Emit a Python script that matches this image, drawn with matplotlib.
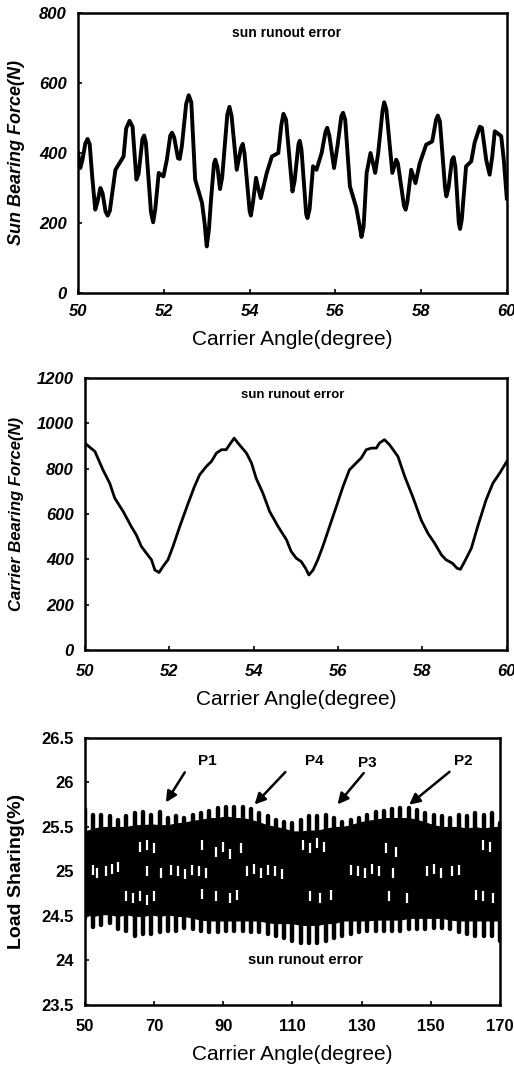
import numpy as np
import matplotlib
matplotlib.use("Agg")
from matplotlib import pyplot as plt

plt.rcParams['font.family'] = ['Liberation Sans', 'DejaVu Sans']

# --- panel 1: sun bearing force ---
sun_x = [50.00, 50.05, 50.10, 50.17, 50.22, 50.27, 50.33, 50.40, 50.45, 50.52,
         50.57, 50.64, 50.69, 50.74, 50.87, 50.99, 51.06, 51.12, 51.20, 51.27,
         51.36, 51.41, 51.50, 51.54, 51.58, 51.70, 51.75, 51.80, 51.88, 51.99,
         52.07, 52.15, 52.19, 52.24, 52.33, 52.37, 52.42, 52.52, 52.58, 52.64,
         52.73, 52.89, 52.95, 53.00, 53.05, 53.10, 53.17, 53.20, 53.25, 53.31,
         53.36, 53.48, 53.53, 53.58, 53.70, 53.80, 53.84, 53.88, 54.00, 54.03,
         54.08, 54.15, 54.20, 54.26, 54.40, 54.52, 54.67, 54.74, 54.79, 54.85,
         55.00, 55.05, 55.14, 55.17, 55.21, 55.32, 55.35, 55.40, 55.48, 55.56,
         55.68, 55.77, 55.81, 55.86, 55.97, 56.05, 56.14, 56.18, 56.23, 56.34,
         56.49, 56.57, 56.61, 56.66, 56.73, 56.82, 56.88, 56.93, 57.00, 57.10,
         57.14, 57.19, 57.33, 57.42, 57.46, 57.60, 57.64, 57.68, 57.77, 57.87,
         57.97, 58.12, 58.26, 58.35, 58.39, 58.44, 58.56, 58.59, 58.64, 58.72,
         58.76, 58.80, 58.88, 58.91, 58.95, 59.05, 59.17, 59.25, 59.37, 59.42,
         59.52, 59.60, 59.66, 59.72, 59.80, 59.87, 59.93, 60.00]
sun_force = [400, 357, 380, 428, 440, 425, 330, 238, 260, 300,
             285, 232, 221, 235, 352, 376, 390, 470, 492, 475,
             324, 340, 440, 450, 430, 230, 202, 240, 343, 333,
             381, 450, 458, 445, 385, 383, 420, 540, 565, 545,
             324, 257, 200, 133, 180, 267, 370, 381, 360, 297,
             330, 510, 532, 505, 352, 415, 426, 400, 235, 221,
             260, 329, 300, 271, 343, 390, 400, 480, 512, 495,
             290, 320, 425, 435, 410, 225, 214, 240, 362, 352,
             400, 460, 472, 450, 357, 420, 505, 515, 495, 305,
             243, 190, 160, 190, 343, 400, 370, 343, 400, 520,
             545, 525, 343, 381, 370, 250, 238, 260, 352, 314,
             371, 424, 433, 495, 507, 490, 300, 276, 300, 380,
             388, 360, 200, 183, 210, 362, 376, 430, 475, 472,
             380, 338, 390, 462, 455, 448, 380, 270]

# --- panel 2: carrier bearing force ---
car_x = [50.00, 50.24, 50.43, 50.59, 50.71, 50.91, 51.10, 51.22, 51.34, 51.46,
         51.58, 51.66, 51.76, 51.85, 51.97, 52.09, 52.25, 52.45, 52.60, 52.72,
         52.88, 53.00, 53.12, 53.24, 53.35, 53.43, 53.54, 53.63, 53.83, 53.95,
         54.06, 54.22, 54.38, 54.58, 54.78, 54.89, 55.01, 55.13, 55.23, 55.31,
         55.41, 55.52, 55.64, 55.80, 55.96, 56.12, 56.27, 56.43, 56.55, 56.67,
         56.79, 56.91, 56.98, 57.10, 57.22, 57.42, 57.58, 57.77, 57.97, 58.13,
         58.29, 58.45, 58.56, 58.71, 58.82, 58.90, 59.00, 59.16, 59.31, 59.51,
         59.67, 59.83, 60.00]
car_force = [913, 876, 795, 736, 670, 611, 545, 508, 457, 427,
             398, 353, 342, 368, 398, 457, 545, 648, 722, 773,
             810, 832, 869, 884, 884, 906, 935, 913, 869, 825,
             758, 692, 611, 545, 486, 435, 405, 390, 361, 331,
             353, 398, 457, 545, 633, 722, 795, 825, 847, 884,
             891, 891, 913, 928, 906, 854, 766, 677, 574, 515,
             471, 420, 398, 383, 361, 356, 390, 449, 545, 663,
             736, 780, 832]

# --- panel 3: load sharing band (P1..P4 overlaid), one tooth every 2.4 deg ---
tooth_x = np.arange(50, 170.01, 2.4)
top_peak = [25.70, 25.64, 25.63, 25.62, 25.58, 25.62, 25.66, 25.67, 25.64, 25.67,
            25.60, 25.62, 25.60, 25.64, 25.66, 25.68, 25.71, 25.72, 25.72, 25.72,
            25.70, 25.66, 25.62, 25.58, 25.56, 25.55, 25.58, 25.62, 25.62, 25.64,
            25.60, 25.56, 25.58, 25.60, 25.64, 25.67, 25.68, 25.70, 25.71, 25.71,
            25.69, 25.66, 25.63, 25.62, 25.60, 25.64, 25.62, 25.66, 25.64, 25.66,
            25.55]
top_base = [25.45, 25.48, 25.50, 25.50, 25.50, 25.50, 25.52, 25.52, 25.53, 25.52,
            25.52, 25.54, 25.55, 25.57, 25.58, 25.60, 25.60, 25.62, 25.60, 25.60,
            25.58, 25.55, 25.52, 25.50, 25.48, 25.45, 25.45, 25.46, 25.46, 25.48,
            25.50, 25.50, 25.52, 25.55, 25.57, 25.58, 25.60, 25.60, 25.60, 25.60,
            25.58, 25.55, 25.52, 25.50, 25.50, 25.50, 25.48, 25.50, 25.48, 25.50,
            25.50]
bottom_peak = [24.48, 24.38, 24.40, 24.42, 24.35, 24.33, 24.28, 24.30, 24.30, 24.32,
               24.33, 24.33, 24.36, 24.35, 24.33, 24.32, 24.32, 24.33, 24.33, 24.33,
               24.32, 24.32, 24.30, 24.28, 24.25, 24.22, 24.20, 24.20, 24.20, 24.22,
               24.25, 24.28, 24.30, 24.32, 24.33, 24.33, 24.33, 24.33, 24.33, 24.35,
               24.35, 24.35, 24.36, 24.36, 24.35, 24.32, 24.30, 24.28, 24.27, 24.27,
               24.22]
bottom_base = [24.52, 24.50, 24.52, 24.52, 24.50, 24.52, 24.50, 24.50, 24.52, 24.50,
               24.52, 24.50, 24.50, 24.48, 24.46, 24.45, 24.45, 24.45, 24.45, 24.45,
               24.45, 24.45, 24.43, 24.42, 24.42, 24.42, 24.40, 24.40, 24.40, 24.42,
               24.42, 24.45, 24.45, 24.45, 24.45, 24.46, 24.46, 24.46, 24.46, 24.48,
               24.48, 24.48, 24.48, 24.48, 24.46, 24.45, 24.45, 24.45, 24.45, 24.45,
               24.45]
# white gaps inside the black band
gap_x = [52.5, 53.5, 56, 58, 59.5, 68, 72, 75, 77, 79, 81, 83, 85, 97, 99, 101, 103,
         105, 107, 127, 129, 131, 133, 135, 139, 149, 151, 153, 156, 158,
         66, 68, 70, 84, 88, 90, 92, 95, 113, 115, 117, 119, 137, 140, 165, 167,
         62, 64, 66, 68, 70, 84, 88, 92, 94, 115, 118, 121, 138, 143, 163, 165, 168]
gap_y = [25.02, 24.98, 25.0, 25.03, 25.05, 25.0, 24.98, 25.02, 25.0, 24.97, 25.02, 25.0,
         24.98, 25.0, 25.03, 24.98, 25.02, 25.0, 24.97, 25.02, 25.0, 24.98, 25.03, 25.0,
         24.98, 25.0, 25.03, 24.98, 25.0, 25.02,
         25.28, 25.3, 25.26, 25.3, 25.22, 25.28, 25.2, 25.26, 25.3, 25.26, 25.32, 25.28,
         25.26, 25.22, 25.3, 25.28,
         24.72, 24.7, 24.72, 24.68, 24.72, 24.75, 24.72, 24.7, 24.74, 24.72, 24.7,
         24.74, 24.72, 24.7, 24.74, 24.72, 24.7]
labels_p = ['P1', 'P4', 'P3', 'P2']
label_x = [85.5, 116.2, 131.6, 159.4]
label_y = [26.24, 26.24, 26.22, 26.24]
tip_x = [73.0, 98.5, 122.5, 143.1]
tip_y = [25.75, 25.73, 25.73, 25.73]
tail_x = [79.3, 108.5, 131.1, 156.0]
tail_y = [26.14, 26.14, 26.13, 26.14]

fig = plt.figure(figsize=(5.14, 10.68), dpi=100)
ax1 = fig.add_axes([0.152, 0.7257, 0.834, 0.2621])
ax2 = fig.add_axes([0.165, 0.3914, 0.821, 0.2546])
ax3 = fig.add_axes([0.165, 0.0590, 0.808, 0.2500])

ax1.plot(sun_x, sun_force, color='black', lw=2.8, solid_joinstyle='round')
ax1.set_xlim(50, 60)
ax1.set_ylim(0, 800)
ax1.set_xticks(range(50, 61, 2))
ax1.set_yticks(range(0, 801, 200))
ax1.text(54.86, 743, 'sun runout error', fontsize=10, fontweight='bold', ha='center', va='center')
ax1.set_ylabel('Sun Bearing Force(N)', fontsize=13, fontweight='bold', fontstyle='italic')
ax1.set_xlabel('Carrier Angle(degree)', fontsize=15, labelpad=8)

ax2.plot(car_x, car_force, color='black', lw=2.0, solid_joinstyle='round')
ax2.set_xlim(50, 60)
ax2.set_ylim(0, 1200)
ax2.set_xticks(range(50, 61, 2))
ax2.set_yticks(range(0, 1201, 200))
ax2.text(54.93, 1127, 'sun runout error', fontsize=9.5, fontweight='bold', ha='center', va='center')
ax2.set_ylabel('Carrier Bearing Force(N)', fontsize=12, fontweight='bold', fontstyle='italic')
ax2.set_xlabel('Carrier Angle(degree)', fontsize=15, labelpad=8)

for ax in (ax1, ax2):
    for lab in ax.get_xticklabels() + ax.get_yticklabels():
        lab.set_fontweight('bold')
        lab.set_fontstyle('italic')
        lab.set_fontsize(12)

ax3.fill_between(tooth_x, bottom_base, top_base, color='black', lw=0.8, edgecolor='black')
ax3.vlines(tooth_x, top_base, top_peak, color='black', lw=3.2, capstyle='round')
ax3.vlines(tooth_x, bottom_peak, bottom_base, color='black', lw=3.2, capstyle='round')
ax3.plot(gap_x, gap_y, linestyle='none', marker='|', color='white', ms=7, mew=1.6)
for lab, lx, ly, ax_, ay_, tx, ty in zip(labels_p, label_x, label_y, tip_x, tip_y, tail_x, tail_y):
    ax3.text(lx, ly, lab, fontsize=11, fontweight='bold', ha='center', va='center')
    ax3.annotate('', xy=(ax_, ay_), xytext=(tx, ty),
                 arrowprops=dict(arrowstyle='-|>', color='black', lw=1.8, mutation_scale=16))
ax3.text(113.8, 24.0, 'sun runout error', fontsize=10.5, fontweight='bold', ha='center', va='center')
ax3.set_xlim(50, 170)
ax3.set_ylim(23.5, 26.5)
ax3.set_xticks(range(50, 171, 20))
ax3.set_yticks([23.5, 24, 24.5, 25, 25.5, 26, 26.5])
ax3.set_yticklabels(['23.5', '24', '24.5', '25', '25.5', '26', '26.5'])
ax3.set_ylabel('Load Sharing(%)', fontsize=14, fontweight='bold')
ax3.set_xlabel('Carrier Angle(degree)', fontsize=15, labelpad=8)
for lab in ax3.get_xticklabels() + ax3.get_yticklabels():
    lab.set_fontweight('bold')
    lab.set_fontsize(12)

for ax in (ax1, ax2, ax3):
    for s in ax.spines.values():
        s.set_linewidth(1.8)
    ax.tick_params(direction='in', length=3, width=1.2, pad=8)
ax2.tick_params(axis='x', pad=10)
ax3.tick_params(axis='x', pad=10)

ax1.yaxis.set_label_coords(-0.125, 0.5)
ax2.yaxis.set_label_coords(-0.145, 0.5)
ax3.yaxis.set_label_coords(-0.145, 0.5)

fig.savefig('out.png', dpi=100)
